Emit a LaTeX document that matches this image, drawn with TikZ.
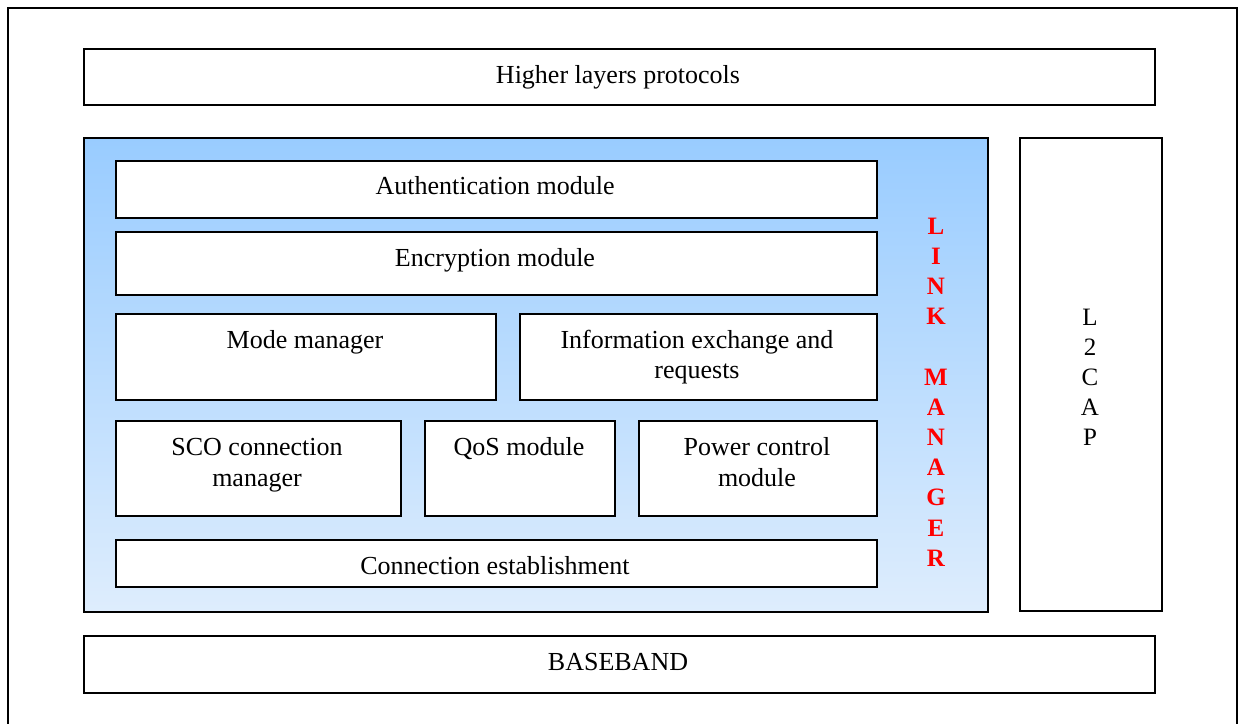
\documentclass[tikz,border=0pt]{standalone}
\usepackage{fontspec}
\setmainfont{Liberation Serif}
\definecolor{lmtop}{RGB}{153,204,255}
\definecolor{lmbottom}{RGB}{222,237,253}
\begin{document}
\begin{tikzpicture}[x=1pt,y=-1pt,
  box/.style={draw=black, line width=1.8pt, fill=white, inner sep=0pt, anchor=north west},
  txt/.style={font=\fontsize{26}{30}\selectfont, inner sep=0pt, text height=0.68em, text depth=0.22em, align=center},
  vert/.style={font=\fontsize{25}{30}\selectfont, inner sep=0pt, align=center}]
\useasboundingbox (0,0) rectangle (1242,723);
% outer frame (runs past the lower edge)
\draw[line width=2.8pt] (8,740) -- (8,8) -- (1237,8) -- (1237,740);

% stack of layers
\node[box, minimum width=1071pt, minimum height=56pt] (hl) at (83,48) {};
\node[txt] (hlt) at (618,81) {Higher layers protocols};

\node[draw=black, line width=1.8pt, top color=lmtop, bottom color=lmbottom,
      inner sep=0pt, anchor=north west, minimum width=904pt, minimum height=474pt] (lm) at (83,137) {};

\node[box, minimum width=142pt, minimum height=473pt] (l2) at (1019,137) {};
\node[vert] (l2t) at (1090,377) {L\\2\\C\\A\\P};

\node[box, minimum width=1071pt, minimum height=57pt] (bb) at (83,635) {};
\node[txt] (bbt) at (618,668) {BASEBAND};

% link manager modules
\node[box, minimum width=761pt, minimum height=57pt] (auth) at (115,160) {};
\node[txt] at (495,192) {Authentication module};

\node[box, minimum width=761pt, minimum height=63pt] (enc) at (115,231) {};
\node[txt] at (495,264) {Encryption module};

\node[box, minimum width=380pt, minimum height=86pt] (mode) at (115,313) {};
\node[txt] at (305,346) {Mode manager};

\node[box, minimum width=357pt, minimum height=86pt] (info) at (519,313) {};
\node[txt] at (697,346) {Information exchange and};
\node[txt] at (697,376) {requests};

\node[box, minimum width=285pt, minimum height=95pt] (sco) at (115,420) {};
\node[txt] at (257,453) {SCO connection};
\node[txt] at (257,484) {manager};

\node[box, minimum width=190pt, minimum height=95pt] (qos) at (424,420) {};
\node[txt] at (519,453) {QoS module};

\node[box, minimum width=238pt, minimum height=95pt] (pwr) at (638,420) {};
\node[txt] at (757,453) {Power control};
\node[txt] at (757,484) {module};

\node[box, minimum width=761pt, minimum height=47pt] (conn) at (115,539) {};
\node[txt] at (495,572) {Connection establishment};

\node[vert, text=red, font=\fontsize{25}{30.2}\selectfont\bfseries] (lmt) at (936,392)
  {L\\I\\N\\K\\\mbox{}\\M\\A\\N\\A\\G\\E\\R};
\end{tikzpicture}
\end{document}
